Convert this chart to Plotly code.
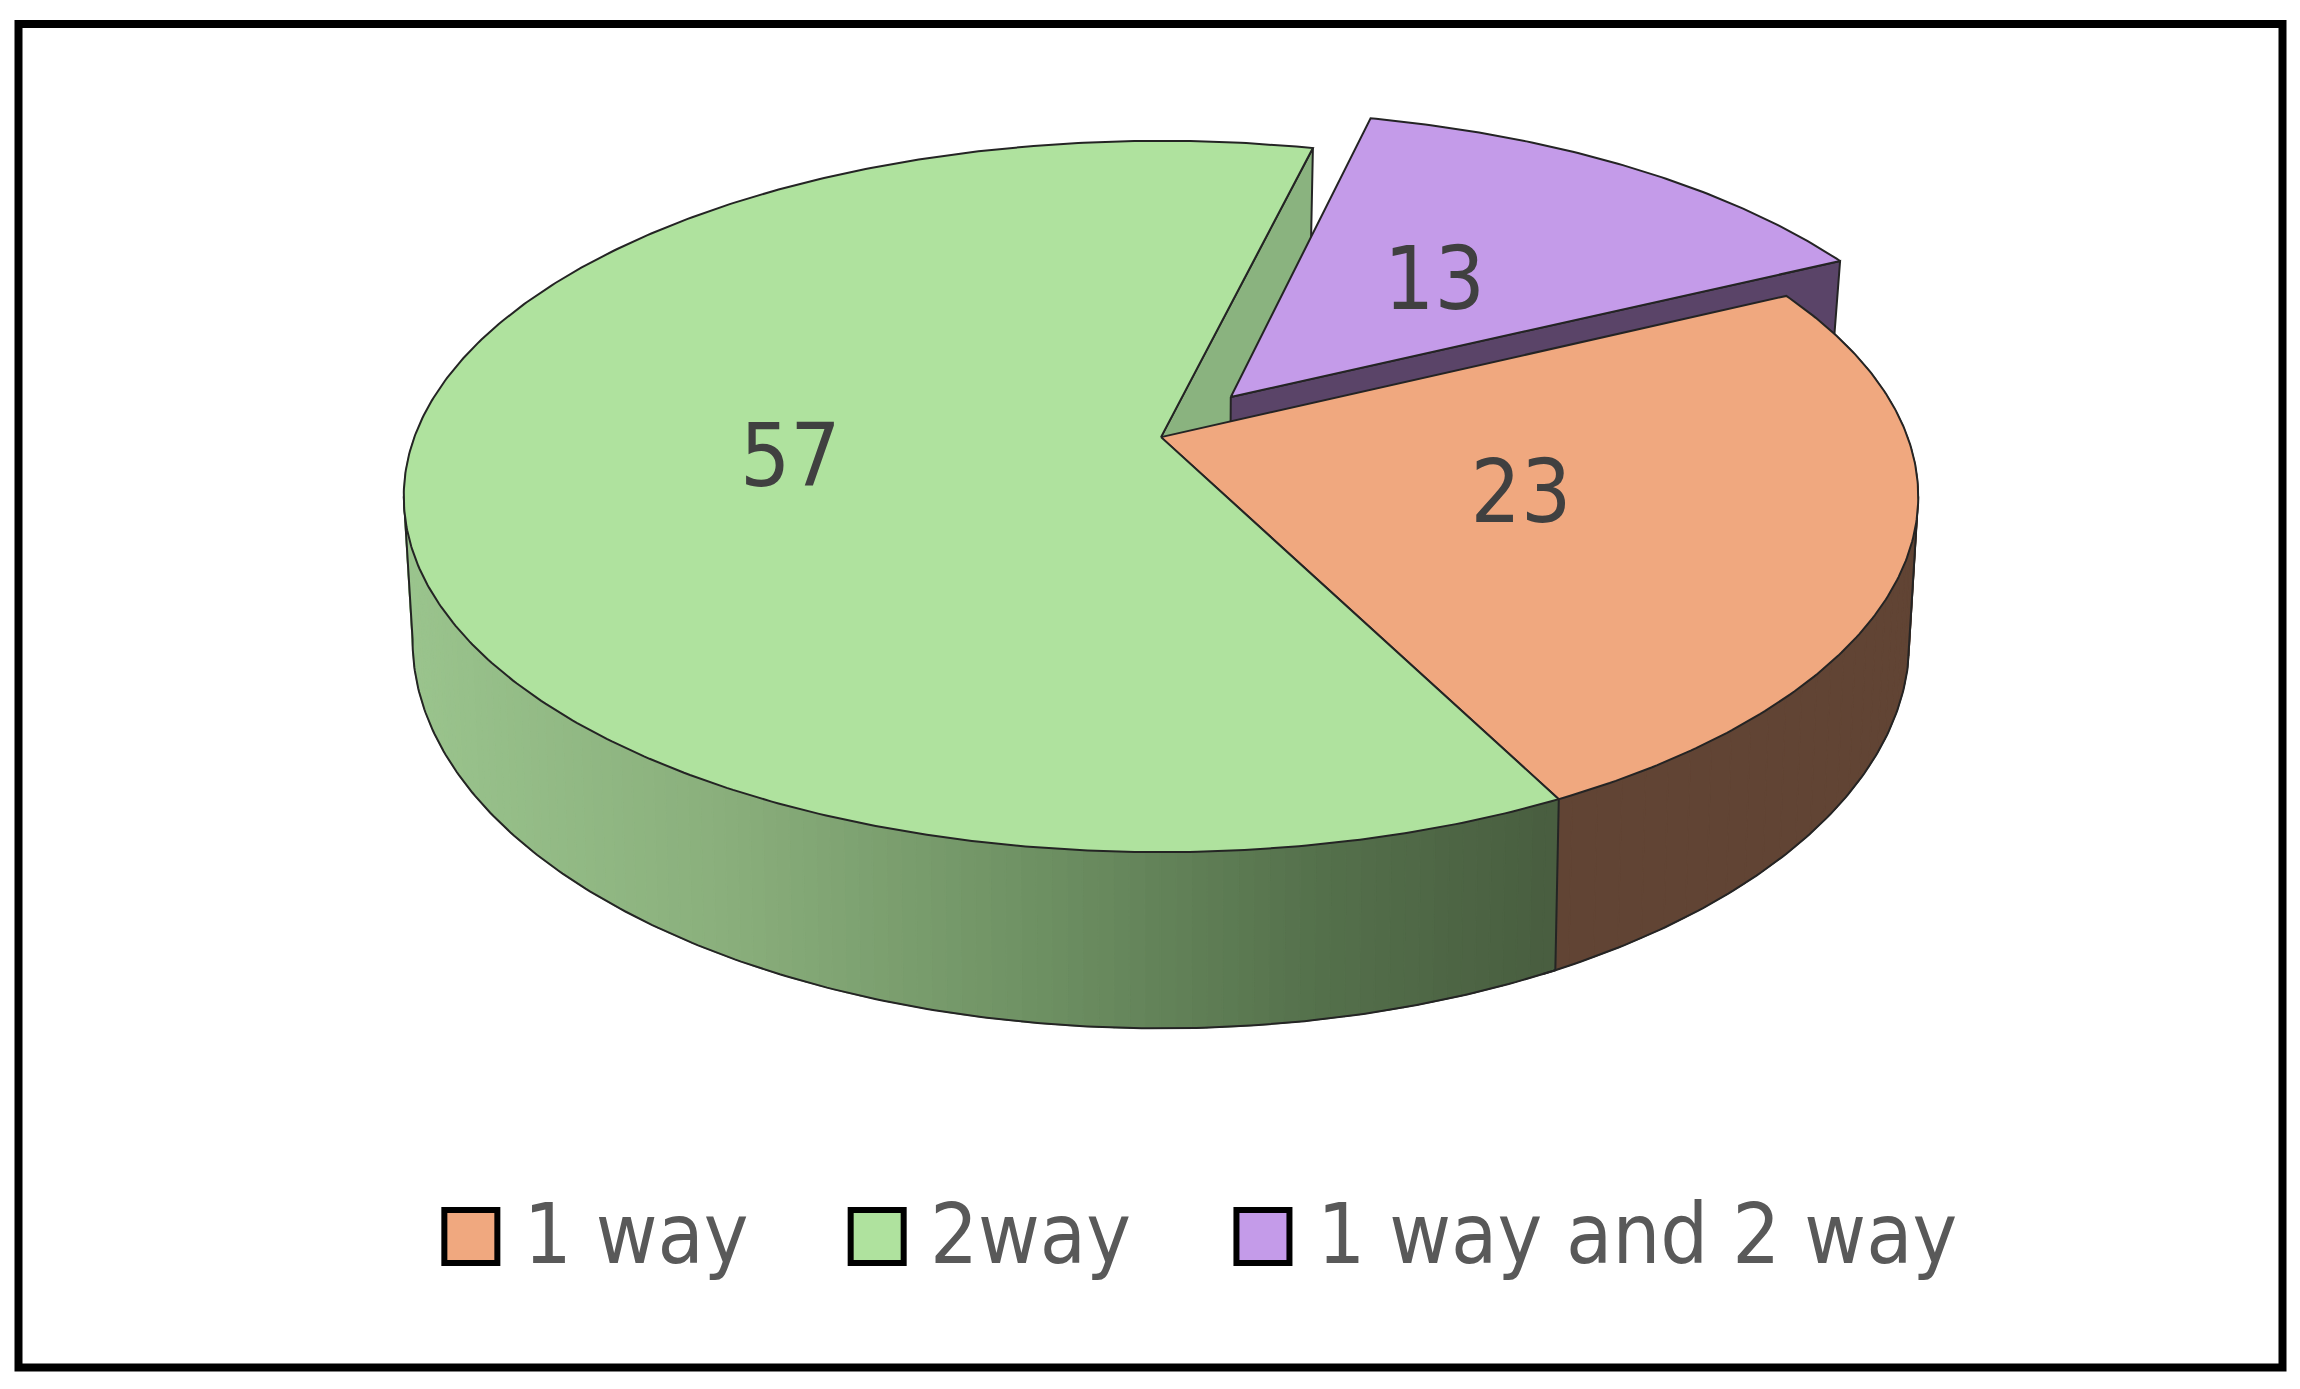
import numpy as np
import plotly.graph_objects as go

categories = ["1 way", "2way", "1 way and 2 way"]
values = [23, 57, 13]
top_colors = ["#F0A87F", "#AFE29E", "#C49BE9"]
side_colors = ["#614434", "#8AB37F", "#5A4468"]
first_angle = 64.0
exploded = [0, 0, 0.152]
label_radius = [0.495, 0.495, 0.48]

# wall shading of the 2way slice, left to right
shade_x = [400, 730, 1030, 1320, 1550]
shade_r = [155, 138, 111, 85, 73]
shade_g = [197, 175, 146, 113, 94]
shade_b = [142, 124, 100, 76, 64]

FONT = "DejaVu Sans Condensed, DejaVu Sans"
EDGE = "#242424"

# pie projection, in page pixels
S = 2300 / 1568
CX, CY = 791.5 * S, 298 * S
RX, RY = 509 * S, 235.7 * S
PERSP = 0.167
DEPTH = 92 * S
BOTTOM_W = -0.02
BOTTOM_X = 0.968
LEFT_SIDE, RIGHT_SIDE = 260.4, 99.6  # where the rim turns in the projection


def project(ang, r=1.0, off=(0, 0), bottom=False):
    a = np.radians(ang)
    X = r * np.sin(a) + off[0]
    Y = r * np.cos(a) + off[1]
    if bottom:
        w = 1 + PERSP * Y + BOTTOM_W
        return CX + RX * BOTTOM_X * X / w, CY + (-RY * Y + DEPTH) / w
    w = 1 + PERSP * Y
    return CX + RX * X / w, CY - RY * Y / w


def arc(a0, a1, off=(0, 0), bottom=False):
    angs = np.linspace(a0, a1, max(int(abs(a1 - a0)) * 2, 2))
    x, y = project(angs, off=off, bottom=bottom)
    return list(x), list(y)


def poly(fig, x, y, fill, line=EDGE, width=2):
    fig.add_trace(go.Scatter(x=x, y=y, mode="lines", fill="toself", fillcolor=fill,
                             line=dict(color=line, width=width), hoverinfo="skip", showlegend=False))


def wall(a0, a1):
    xt, yt = arc(a0, a1)
    xb, yb = arc(a0, a1, bottom=True)
    return xt + xb[::-1] + xt[:1], yt + yb[::-1] + yt[:1]


def wall_outline(fig, a_top, a_from, a_to):
    # side edge at a_top, then the lower rim
    xb, yb = arc(a_from, a_to, bottom=True)
    xs, ys = project(a_top)
    if a_top == a_from:
        x, y = [xs] + xb, [ys] + yb
    else:
        x, y = xb + [xs], yb + [ys]
    fig.add_trace(go.Scatter(x=x, y=y, mode="lines", line=dict(color=EDGE, width=2),
                             hoverinfo="skip", showlegend=False))


total = sum(values)
starts = []
ang = first_angle
for v in values:
    starts.append((ang, ang + v / total * 360))
    ang += v / total * 360
o0, o1 = starts[0]
g0, g1 = starts[1]
p0, p1 = starts[2]
pmid = np.radians((p0 + p1) / 2)
poff = (exploded[2] * np.sin(pmid), exploded[2] * np.cos(pmid))

fig = go.Figure()

# cut face of the 2way slice, seen through the gap
rx, ry = project(g1)
rbx, rby = project(g1, bottom=True)
abx, aby = project(g1, r=0, bottom=True)
poly(fig, [CX, rx, rbx, abx, CX], [CY, ry, rby, aby, CY], side_colors[1])

# exploded slice: cut face, then top
ax, ay = project(p1, r=0, off=poff)
abx, aby = project(p1, r=0, off=poff, bottom=True)
rx, ry = project(p1, off=poff)
rbx, rby = project(p1, off=poff, bottom=True)
poly(fig, [ax, rx, rbx, abx, ax], [ay, ry, rby, aby, ay], side_colors[2])
xp, yp = arc(p0, p1, off=poff)
poly(fig, [ax] + xp + [ax], [ay] + yp + [ay], top_colors[2])

# outer walls
edges = np.arange(o0, o1 + 2, 2.0)
edges[-1] = o1
for a0, a1 in zip(edges[:-1], edges[1:]):
    x, y = wall(a0, a1)
    poly(fig, x, y, side_colors[0], line=side_colors[0], width=1.2)
wall_outline(fig, RIGHT_SIDE, RIGHT_SIDE, o1)

edges = np.arange(g0, 272, 1.0)
for a0, a1 in zip(edges[:-1], edges[1:]):
    x, y = wall(a0, a1)
    mx = np.mean(x)
    col = "rgb(%d,%d,%d)" % (np.interp(mx, shade_x, shade_r), np.interp(mx, shade_x, shade_g),
                             np.interp(mx, shade_x, shade_b))
    poly(fig, x, y, col, line=col, width=1.2)
wall_outline(fig, LEFT_SIDE, g0, LEFT_SIDE)
wall_outline(fig, g0, g0, g0 + 1)

# top faces
xo, yo = arc(o0, o1)
poly(fig, [CX] + xo + [CX], [CY] + yo + [CY], top_colors[0])
xg, yg = arc(g0, g1)
poly(fig, [CX] + xg + [CX], [CY] + yg + [CY], top_colors[1])

# value labels
lx, ly = [], []
for (a0, a1), e, r in zip(starts, exploded, label_radius):
    m = (a0 + a1) / 2
    off = (e * np.sin(np.radians(m)), e * np.cos(np.radians(m)))
    px, py = project(m, r=r, off=off)
    lx.append(px)
    ly.append(py + 5 * S)
fig.add_trace(go.Scatter(x=lx, y=ly, mode="text", text=[str(v) for v in values],
                         textposition="middle center", hoverinfo="skip", showlegend=False,
                         textfont=dict(family=FONT, size=88, color="#404040")))

# legend row
swatch_x = [321 * S, 598 * S, 861 * S]
label_x = [357 * S, 634 * S, 898 * S]
legend_y = 843 * S
fig.add_trace(go.Scatter(x=swatch_x, y=[legend_y] * 3, mode="markers", hoverinfo="skip", showlegend=False,
                         marker=dict(symbol="square", size=53, color=top_colors, line=dict(color="#000000", width=6))))
fig.add_trace(go.Scatter(x=label_x, y=[legend_y + 4 * S] * 3, mode="text", text=categories,
                         textposition="middle right", hoverinfo="skip", showlegend=False,
                         textfont=dict(family=FONT, size=84, color="#595959")))

fig.update_layout(
    width=2300, height=1389, margin=dict(l=0, r=0, t=0, b=0),
    paper_bgcolor="white", plot_bgcolor="white",
    xaxis=dict(range=[0, 2300], visible=False, fixedrange=True),
    yaxis=dict(range=[1389, 0], visible=False, fixedrange=True),
    shapes=[dict(type="rect", x0=18.5, y0=24, x1=2282.5, y1=1367.5, line=dict(color="#000000", width=8),
                 layer="above")],
)

fig.write_html("out.html", post_script="document.body.style.margin='0';", config=dict(displayModeBar=False))
